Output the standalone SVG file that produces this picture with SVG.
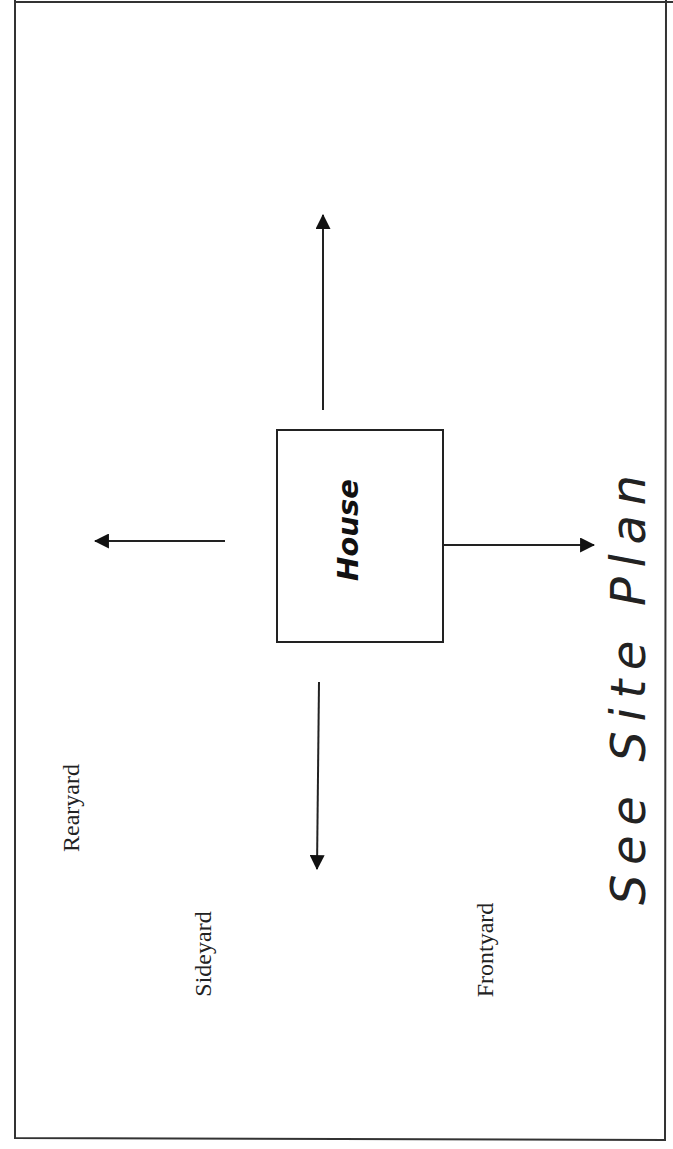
<svg xmlns="http://www.w3.org/2000/svg" width="673" height="1149" viewBox="0 0 673 1149">
<style>
.frame{fill:none;stroke:#333;stroke-width:2}
.box{fill:#fff;stroke:#222;stroke-width:2}
.conn{stroke:#222;stroke-width:2;fill:none}
.lbl{font-family:"Liberation Serif",serif;font-size:24px;fill:#222}
.house{font-family:"DejaVu Sans",sans-serif;font-weight:bold;font-style:italic;font-size:29px;fill:#111}
.hand{font-family:"DejaVu Sans",sans-serif;font-style:italic;font-weight:200;font-size:48px;fill:#222}
</style>
<defs>
<marker id="ah" viewBox="0 0 14 14" refX="13" refY="7" markerWidth="15" markerHeight="15" markerUnits="userSpaceOnUse" orient="auto">
<path d="M0,0 L14,7 L0,14 Z" fill="#111"/>
</marker>
</defs>
<rect width="673" height="1149" fill="#fff"/>
<path class="frame" d="M15,0 L15,1138 L665,1140 L666,0 M15,2 L673,2"/>
<g id="house">
<rect class="box" x="277" y="430" width="166" height="212"/>
<text class="house" transform="translate(358,530) rotate(-90)" text-anchor="middle">House</text>
</g>
<g id="connectors">
<line class="conn" x1="323" y1="410" x2="323" y2="215" marker-end="url(#ah)"/>
<line class="conn" x1="225" y1="541" x2="95" y2="541" marker-end="url(#ah)"/>
<line class="conn" x1="443" y1="545" x2="594" y2="545" marker-end="url(#ah)"/>
<line class="conn" x1="319" y1="682" x2="317" y2="869" marker-end="url(#ah)"/>
</g>
<g id="rearyard"><text class="lbl" transform="translate(79,808) rotate(-90)" text-anchor="middle">Rearyard</text></g>
<g id="sideyard"><text class="lbl" transform="translate(211,954) rotate(-90)" text-anchor="middle">Sideyard</text></g>
<g id="frontyard"><text class="lbl" transform="translate(493,950) rotate(-90)" text-anchor="middle">Frontyard</text></g>
<g id="note"><text class="hand" transform="translate(645,690) rotate(-90)" text-anchor="middle" textLength="430" lengthAdjust="spacing">See Site Plan</text></g>
</svg>
